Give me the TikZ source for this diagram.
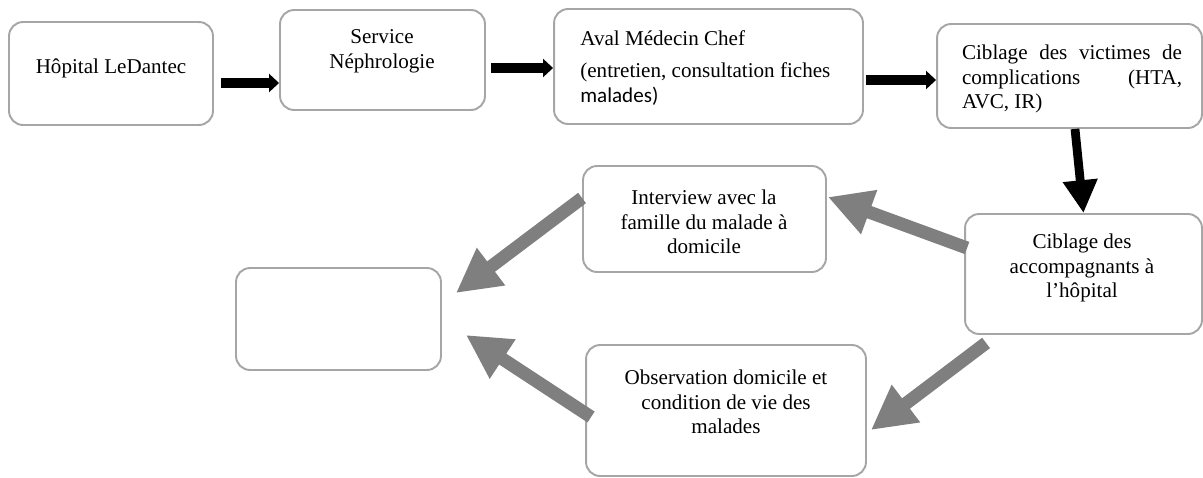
\documentclass[tikz,border=0pt]{standalone}
\usepackage{fontspec}
\setmainfont{Liberation Serif}
\newfontfamily\calibri{Carlito}
\usetikzlibrary{arrows.meta,calc}
\definecolor{boxgray}{RGB}{166,166,166}
\definecolor{arrgray}{RGB}{127,127,127}

\begin{document}
\begin{tikzpicture}[x=0.02cm,y=-0.02cm]
\tikzstyle{every node}+=[inner sep=0pt, font=\fontsize{12}{14}\selectfont]
\tikzstyle{box}=[draw=boxgray, line width=1.1pt, rounded corners=8pt, fill=white]
\tikzstyle{blk}=[line width=5.7pt, -{Triangle[length=5.7pt,width=10.2pt]}]
\tikzstyle{blkdown}=[line width=5pt, -{Triangle[length=18.7pt,width=18.7pt]}]
\tikzstyle{gry}=[arrgray, line width=7.4pt, -{Triangle[length=25pt,width=25pt]}]
\useasboundingbox (0,0) rectangle (1203,477);
% boxes
\node[box, minimum width=4.08cm, minimum height=2.06cm] (hopital) at (111,73.5) {};
\node[box, minimum width=4.1cm, minimum height=2cm] (service) at (382.5,60) {};
\node[box, minimum width=6.18cm, minimum height=2.3cm] (aval) at (708.5,66.5) {};
\node[box, minimum width=5.3cm, minimum height=2.08cm] (victimes) at (1069.5,76) {};
\node[box, minimum width=4.74cm, minimum height=2.4cm] (accomp) at (1083.5,274) {};
\node[box, minimum width=4.86cm, minimum height=2.12cm] (interview) at (704.5,219) {};
\node[box, minimum width=4.1cm, minimum height=2.04cm] (vide) at (338.5,319) {};
\node[box, minimum width=5.6cm, minimum height=2.62cm] (obs) at (726,410.5) {};
% texts
\node (hopital-t) at (111,68) {Hôpital LeDantec};
\node[align=center] (service-t) at (382,51) {Service\\Néphrologie};
\node[anchor=west, align=left] (aval-t) at (580,68) {Aval Médecin Chef\\[4.5pt](entretien, consultation fiches\\{\calibri malades)}};
\node[text width=4.4cm, align=justify] (victimes-t) at (1072,79) {Ciblage des victimes de\linebreak complications (HTA,\linebreak AVC, IR)};
\node[align=center] (accomp-t) at (1082,268) {Ciblage des\\accompagnants à\\l’hôpital};
\node[align=center] (interview-t) at (704,222) {Interview avec la\\famille du malade à\\domicile};
\node[align=center] (obs-t) at (726,402) {Observation domicile et\\condition de vie des\\malades};
% black arrows
\draw[blk] ($(hopital.east)+(7,9.5)$) coordinate (t1) -- (t1 -| service.west);
\draw[blk] ($(service.east)+(5,8)$) coordinate (t2) -- (t2 -| aval.west);
\draw[blk] ($(aval.east)+(2,13.5)$) coordinate (t3) -- (t3 -| victimes.west);
\draw[blkdown] ($(victimes.south)+(5.5,0)$) -- (accomp.north);
% grey arrows
\draw[gry] ($(accomp.west)+(3,-26)$) -- ($(interview.east)+(1,-22)$);
\draw[gry] ($(interview.west)+(0,-21)$) -- ($(vide.east)+(14,-26)$);
\draw[gry] ($(accomp.south west)+(22,8)$) -- ($(obs.east)+(4,19.5)$);
\draw[gry] ($(obs.west)+(6,6.5)$) -- ($(vide.east)+(24,16)$);
\end{tikzpicture}
\end{document}
